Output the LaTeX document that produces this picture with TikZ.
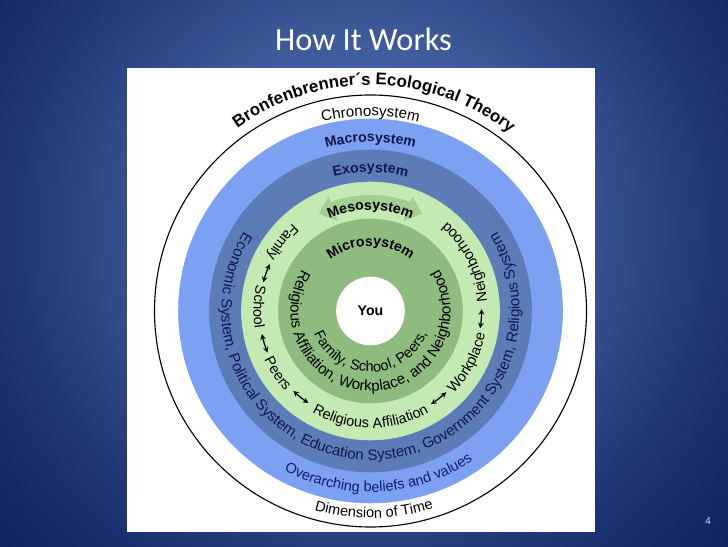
\documentclass[tikz,border=0pt]{standalone}
\usepackage{fontspec}
\setmainfont{Liberation Sans}
\newfontfamily\titlefont{Carlito}
\usetikzlibrary{decorations.text,arrows.meta}

\definecolor{bluering}{HTML}{7CA0F2}
\definecolor{darkring}{HTML}{5C7CB8}
\definecolor{paleGreen}{HTML}{C4E9B2}
\definecolor{midGreen}{HTML}{8FBC7E}
\definecolor{bandGreen}{HTML}{A3CF93}
\definecolor{inkNavy}{HTML}{10184E}
\definecolor{inkBlue}{HTML}{141C70}
\definecolor{backA}{HTML}{4C6EAE}
\definecolor{backB}{HTML}{3F5D9C}
\definecolor{backC}{HTML}{1F3575}
\definecolor{backD}{HTML}{0E2060}

\pgfdeclareradialshading{slideback}{\pgfpoint{0bp}{0bp}}{%
  color(0bp)=(backA);
  color(9bp)=(backB);
  color(18bp)=(backC);
  color(25bp)=(backD);
  color(50bp)=(backD)}

\newcommand{\plainsize}{\fontsize{10.3}{12}\selectfont}
\newcommand{\widesize}{\fontsize{10.7}{12}\selectfont}
\newcommand{\boldsize}{\fontsize{10}{12}\selectfont\bfseries}
\newcommand{\theorysize}{\fontsize{12}{14}\selectfont\bfseries}

\tikzset{
  arctext/.style={decorate,decoration={text along path,text align=center,text={#1}}},
  ringarrow/.style={{Stealth[length=4pt,width=4pt]}-{Stealth[length=4pt,width=4pt]},line width=0.9pt,black}
}

\begin{document}
\begin{tikzpicture}[x=0.025cm,y=0.025cm]
  \useasboundingbox (0,0) rectangle (728,546);
  \begin{scope}
    \clip (0,0) rectangle (728,546);
    \shade[shading=slideback] (364,320) circle (500);
  \end{scope}
  \node[text=white,font=\titlefont\fontsize{23}{25}\selectfont,anchor=base] (title) at (363.5,495) {How It Works};
  \fill[white] (127,14) rectangle (595,478);

  \begin{scope}[shift={(370.5,235)}]
    \draw[black, line width=0.8pt] (0,0) circle (216);
    \filldraw[bluering] (0,0) circle (192);
    \filldraw[darkring] (0,0) circle (161);
    \filldraw[paleGreen] (0,0) circle (129);
    \filldraw[midGreen] (0,0) circle (92);
    \filldraw[white] (0,0) circle (34);

    \fill[bandGreen] (118:110) -- (110:96) -- (110:102) arc[start angle=110,end angle=70,radius=102]
      -- (70:96) -- (62:110) -- (70:122) -- (70:116) arc[start angle=70,end angle=110,radius=116]
      -- (110:122) -- cycle;

    \path[arctext={|\theorysize|Bronfenbrenner´s Ecological Theory}] (149:226) arc[start angle=149,end angle=29,radius=226];
    \path[arctext={|\widesize|Chronosystem}] (120:195) arc[start angle=120,end angle=60,radius=195];
    \path[arctext={|\boldsize\color{inkNavy}|Macrosystem}] (120:169) arc[start angle=120,end angle=60,radius=169];
    \path[arctext={|\boldsize\color{inkNavy}|Exosystem}] (120:139) arc[start angle=120,end angle=60,radius=139];
    \path[arctext={|\boldsize|Mesosystem}] (130:101) arc[start angle=130,end angle=50,radius=101];
    \path[arctext={|\boldsize|Microsystem}] (145:65) arc[start angle=145,end angle=35,radius=65];

    \path[arctext={|\widesize\color{inkNavy}|Economic System, Political System, Education System, Government System, Religious System}] (-250:149) arc[start angle=-250,end angle=70,radius=149];
    \path[arctext={|\plainsize\color{inkBlue}|Overarching beliefs and values}] (203:181) arc[start angle=203,end angle=343,radius=181];
    \path[arctext={|\plainsize|Dimension of Time}] (231:207) arc[start angle=231,end angle=311,radius=207];

    \path[arctext={|\plainsize|Family}] (120:117) arc[start angle=120,end angle=164,radius=117];
    \path[arctext={|\plainsize|School}] (156:117) arc[start angle=156,end angle=200,radius=117];
    \path[arctext={|\plainsize|Peers}] (192:117) arc[start angle=192,end angle=236,radius=117];
    \path[arctext={|\plainsize|Religious Affiliation}] (220:117) arc[start angle=220,end angle=320,radius=117];
    \path[arctext={|\plainsize|Workplace}] (305:117) arc[start angle=305,end angle=359,radius=117];
    \path[arctext={|\plainsize|Neighborhood}] (-15:117) arc[start angle=-15,end angle=69,radius=117];

    \draw[ringarrow] (155:111) arc[start angle=155,end angle=165,radius=111];
    \draw[ringarrow] (192:111) arc[start angle=192,end angle=202,radius=111];
    \draw[ringarrow] (226:111) arc[start angle=226,end angle=236,radius=111];
    \draw[ringarrow] (303:111) arc[start angle=303,end angle=313,radius=111];
    \draw[ringarrow] (351:111) arc[start angle=351,end angle=361,radius=111];

    \path[arctext={|\plainsize|Family, School, Peers,}] (190:61) arc[start angle=190,end angle=350,radius=61];
    \path[arctext={|\widesize|Religious Affiliation, Workplace, and Neighborhood}] (130:80) arc[start angle=130,end angle=410,radius=80];

    \node[font=\boldsize] (you) at (0,0) {You};
  \end{scope}

  \node[text=white!85!blue,font=\fontsize{7}{8}\selectfont] (pagenum) at (708,25) {4};
\end{tikzpicture}
\end{document}
